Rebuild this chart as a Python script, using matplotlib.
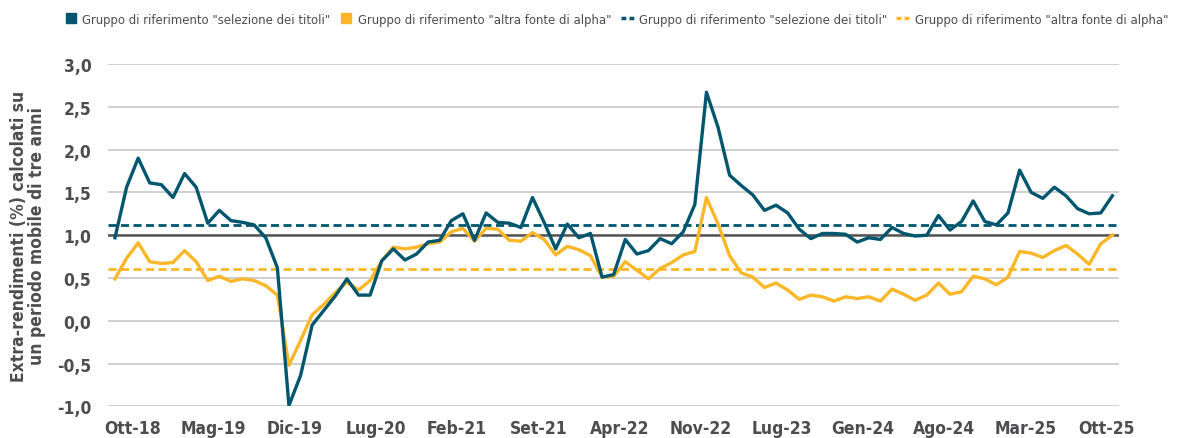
import numpy as np
import matplotlib
matplotlib.use("Agg")
import matplotlib.pyplot as plt
from matplotlib import font_manager
from matplotlib.lines import Line2D
from matplotlib.ticker import FuncFormatter

# rolling 3y excess returns (%), monthly
stock_selection = [
    0.97, 1.56, 1.90, 1.61, 1.59, 1.44, 1.72, 1.56, 1.14, 1.29,
    1.17, 1.15, 1.12, 0.97, 0.62, -0.99, -0.64, -0.05, 0.12, 0.29,
    0.49, 0.30, 0.30, 0.70, 0.84, 0.71, 0.78, 0.92, 0.94, 1.17,
    1.25, 0.94, 1.26, 1.15, 1.14, 1.09, 1.44, 1.15, 0.84, 1.13,
    0.97, 1.02, 0.51, 0.54, 0.95, 0.78, 0.82, 0.96, 0.90, 1.04,
    1.36, 2.67, 2.26, 1.70, 1.58, 1.47, 1.29, 1.35, 1.26, 1.07,
    0.96, 1.02, 1.02, 1.01, 0.92, 0.97, 0.95, 1.09, 1.02, 0.99,
    1.00, 1.23, 1.06, 1.16, 1.40, 1.16, 1.12, 1.26, 1.76, 1.50,
    1.43, 1.56, 1.46, 1.31, 1.25, 1.26, 1.46,
]
other_alpha = [
    0.49, 0.73, 0.91, 0.69, 0.67, 0.68, 0.82, 0.69, 0.47, 0.52,
    0.46, 0.49, 0.47, 0.41, 0.30, -0.52, -0.23, 0.07, 0.19, 0.33,
    0.45, 0.36, 0.47, 0.70, 0.86, 0.84, 0.86, 0.90, 0.92, 1.04,
    1.08, 0.93, 1.08, 1.07, 0.94, 0.93, 1.03, 0.95, 0.77, 0.87,
    0.83, 0.76, 0.51, 0.52, 0.69, 0.59, 0.49, 0.61, 0.68, 0.77,
    0.81, 1.44, 1.13, 0.76, 0.56, 0.51, 0.39, 0.44, 0.36, 0.25,
    0.30, 0.28, 0.23, 0.28, 0.26, 0.28, 0.23, 0.37, 0.31, 0.24,
    0.30, 0.44, 0.31, 0.34, 0.52, 0.49, 0.42, 0.51, 0.81, 0.79,
    0.74, 0.82, 0.88, 0.78, 0.66, 0.90, 1.00,
]
avg_stock_selection = 1.12
avg_other_alpha = 0.60
baseline = 1.0

tick_labels = ["Ott-18", "Mag-19", "Dic-19", "Lug-20", "Feb-21", "Set-21", "Apr-22",
               "Nov-22", "Lug-23", "Gen-24", "Ago-24", "Mar-25", "Ott-25"]

names = ['Gruppo di riferimento "selezione dei titoli"',
         'Gruppo di riferimento "altra fonte di alpha"']

BLUE = "#00566f"
YELLOW = "#fbb727"
TEXT = "#4d4d4f"


# look for a narrow face, the original uses a condensed font
def pick_font(weight):
    for fam in ["Liberation Sans Narrow", "DejaVu Sans Condensed"]:
        try:
            fp = font_manager.FontProperties(family=fam, weight=weight)
            font_manager.findfont(fp, fallback_to_default=False)
            return fp, True
        except ValueError:
            pass
    fp = font_manager.FontProperties(family="DejaVu Sans", stretch="condensed", weight=weight)
    path = font_manager.findfont(fp)
    if "Condensed" in path:
        return font_manager.FontProperties(fname=path), True
    return font_manager.FontProperties(family="DejaVu Sans", weight=weight), False


bold_fp, bold_narrow = pick_font("bold")
light_fp, light_narrow = pick_font("normal")
tick_size = 12.5 if bold_narrow else 11
leg_size = 9.4 if light_narrow else 8.0

fig = plt.figure(figsize=(11.78, 4.39), dpi=100)
ax = fig.add_axes([0.0917, 0.072, 0.858, 0.780])

x = np.arange(len(stock_selection))

ax.set_ylim(-1.0, 3.0)
ax.set_yticks(np.arange(-1.0, 3.01, 0.5))
ax.yaxis.grid(True, color="#c8c8c8", linewidth=1.2)
ax.set_axisbelow(True)
ax.axhline(baseline, color="#555555", linewidth=1.8, zorder=1)

ax.axhline(avg_stock_selection, color=BLUE, linewidth=2, dashes=(2.9, 1.6), zorder=2)
ax.axhline(avg_other_alpha, color=YELLOW, linewidth=2, dashes=(2.9, 1.6), zorder=2)
ax.plot(x, other_alpha, color=YELLOW, linewidth=2.4, zorder=3)
ax.plot(x, stock_selection, color=BLUE, linewidth=2.4, zorder=4)

ax.set_xlim(-0.6, 86.55)
ax.set_xticks(1.5 + 7 * np.arange(len(tick_labels)))
ax.set_xticklabels(tick_labels)
ax.yaxis.set_major_formatter(FuncFormatter(lambda v, p: f"{v:.1f}".replace(".", ",")))

for s in ax.spines.values():
    s.set_visible(False)
ax.tick_params(axis="both", length=0, colors=TEXT)
ax.tick_params(axis="x", pad=9)
ax.tick_params(axis="y", pad=12)
for lab in ax.get_xticklabels() + ax.get_yticklabels():
    lab.set_fontproperties(bold_fp)
    lab.set_fontsize(tick_size)
    lab.set_fontweight("bold")

ylab = ax.set_ylabel("Extra-rendimenti (%) calcolati su\nun periodo mobile di tre anni",
                     color=TEXT, labelpad=8, linespacing=1.0)
ylab.set_fontproperties(bold_fp)
ylab.set_fontsize(tick_size)
ylab.set_fontweight("bold")

handles = [
    Line2D([], [], color=BLUE, linestyle="none", marker="s", markersize=6.5),
    Line2D([], [], color=YELLOW, linestyle="none", marker="s", markersize=6.5),
    Line2D([], [], color=BLUE, linewidth=2.5, dashes=(1.4, 0.9)),
    Line2D([], [], color=YELLOW, linewidth=2.5, dashes=(1.4, 0.9)),
]
leg_fp = light_fp.copy()
leg_fp.set_size(leg_size)
fig.legend(handles, names + names, loc="upper center", bbox_to_anchor=(0.523, 0.996),
           ncol=4, frameon=False, prop=leg_fp, handlelength=1.0,
           handletextpad=0.4, columnspacing=0.7, labelcolor=TEXT)

fig.savefig("out.png", dpi=100)
